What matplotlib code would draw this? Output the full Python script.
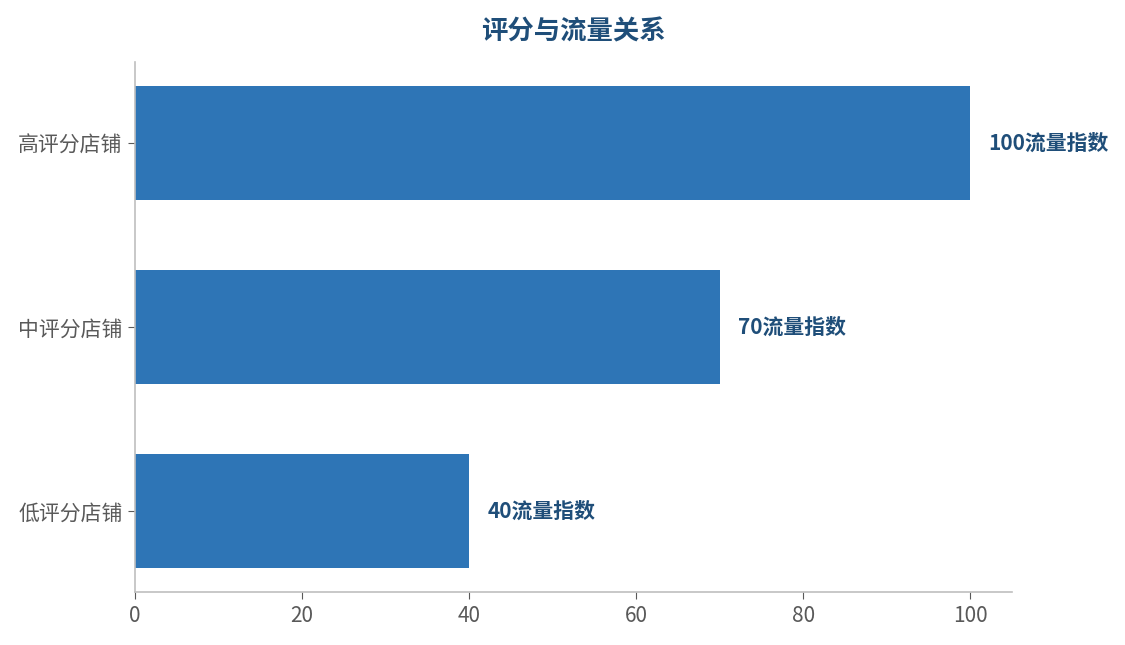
import matplotlib
matplotlib.use("Agg")
import matplotlib.pyplot as plt

plt.rcParams['font.family'] = ['Noto Sans CJK SC', 'DejaVu Sans']

categories = ["低评分店铺", "中评分店铺", "高评分店铺"]
traffic = [40, 70, 100]
labels = ["40流量指数", "70流量指数", "100流量指数"]


def main():
    fig = plt.figure(figsize=(11.25, 6.45), dpi=100)
    ax = fig.add_axes([0.12, 0.082, 0.7796, 0.822])

    ax.barh(categories, traffic, height=0.62, color="#2E75B6")
    for i in range(len(traffic)):
        ax.text(traffic[i] + 2.2, i, labels[i], va="center", ha="left",
                fontsize=15, fontweight="bold", color="#1F4E79")

    ax.set_xlim(0, 105)
    ax.set_xticks([0, 20, 40, 60, 80, 100])
    ax.set_title("评分与流量关系", fontsize=19, fontweight="bold",
                 color="#1F4E79", pad=16)

    for side in ["top", "right"]:
        ax.spines[side].set_visible(False)
    for side in ["left", "bottom"]:
        ax.spines[side].set_color("#BFBFBF")
        ax.spines[side].set_linewidth(1.2)
    ax.tick_params(colors="#595959", labelsize=15, length=5, pad=4)

    fig.savefig("out.png", dpi=100)


if __name__ == "__main__":
    main()
